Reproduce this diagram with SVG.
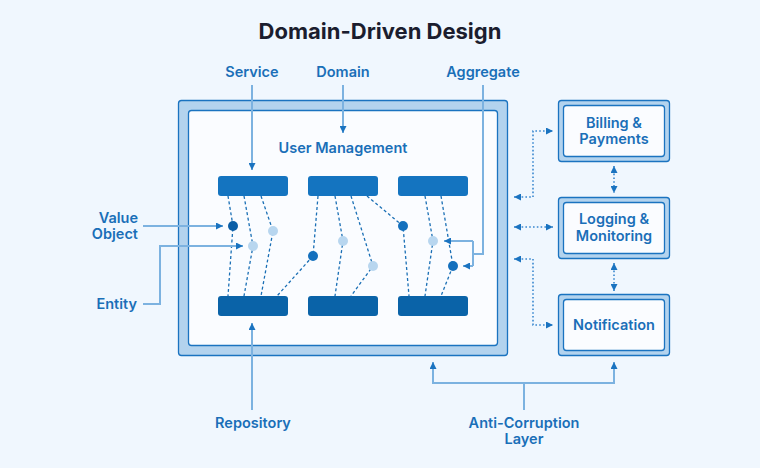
<svg xmlns="http://www.w3.org/2000/svg" width="760" height="468" viewBox="0 0 760 468">
<defs>
<style>
.lbl{font-family:Inter,"Open Sans","Liberation Sans",sans-serif;font-weight:600;font-size:14.5px;fill:#1a6fb8}
.title{font-family:Inter,"Open Sans","Liberation Sans",sans-serif;font-weight:700;font-size:22px;fill:#1b1d2e}
.frame{fill:#b3d3ee;stroke:#1a73c0;stroke-width:1.3}
.inner{fill:#fafcff;stroke:#1a73c0;stroke-width:1.3}
.svcTop{fill:#1474c0}
.svcBot{fill:#0a63a8}
.dl{fill:none;stroke:#1a6fb5;stroke-width:1.3;stroke-dasharray:3 2.5}
.ptr{fill:none;stroke:#7cb2e0;stroke-width:2}
.dot{fill:none;stroke:#3a88cf;stroke-width:1.6;stroke-dasharray:1.6 2.2}
.dDark{fill:#0b5ea6}
.dMid{fill:#1470bd}
.dLight{fill:#b8d6ef}
</style>
<marker id="ah" viewBox="0 0 6 6" refX="6" refY="3" markerWidth="7" markerHeight="7" markerUnits="userSpaceOnUse" orient="auto-start-reverse">
<path d="M0,0 L6,3 L0,6 z" fill="#1a73c0"/>
</marker>
</defs>
<rect width="760" height="468" fill="#f0f7fe"/>
<text class="title" x="380" y="39" text-anchor="middle">Domain-Driven Design</text>

<g id="domain">
<rect class="frame" x="178.5" y="100.5" width="329" height="255" rx="3"/>
<rect class="inner" x="188.5" y="110.5" width="309" height="235" rx="3"/>
<text class="lbl" x="343" y="153" text-anchor="middle" font-size="15.5">User Management</text>
</g>

<g id="services">
<rect class="svcTop" x="218" y="176" width="70" height="20" rx="3"/>
<rect class="svcTop" x="308" y="176" width="70" height="20" rx="3"/>
<rect class="svcTop" x="398" y="176" width="70" height="20" rx="3"/>
</g>
<g id="repositories">
<rect class="svcBot" x="218" y="296" width="70" height="20" rx="3"/>
<rect class="svcBot" x="308" y="296" width="70" height="20" rx="3"/>
<rect class="svcBot" x="398" y="296" width="70" height="20" rx="3"/>
</g>

<g id="connectors">
<polyline class="dl" points="228,196 233,226 228,296"/>
<polyline class="dl" points="244,196 253,246 244,296"/>
<polyline class="dl" points="261,196 273,231 261,296"/>
<polyline class="dl" points="318,196 313,256 277,296"/>
<polyline class="dl" points="335,196 343,241 335,296"/>
<polyline class="dl" points="351,196 373,266 351,296"/>
<polyline class="dl" points="367,196 403,226 409,296"/>
<polyline class="dl" points="425,196 433,241 425,296"/>
<polyline class="dl" points="441,196 453,266 441,296"/>

<path class="ptr" d="M252,85 V170" marker-end="url(#ah)"/>
<path class="ptr" d="M343,85 V133" marker-end="url(#ah)"/>
<path class="ptr" d="M252,410 V323" marker-end="url(#ah)"/>
<path class="ptr" d="M483,85 V254 H473"/>
<path class="ptr" d="M473,241 V266"/>
<path class="ptr" d="M473,241 H444" marker-end="url(#ah)"/>
<path class="ptr" d="M473,266 H463" marker-end="url(#ah)"/>
<path class="ptr" d="M143,226 H223" marker-end="url(#ah)"/>
<path class="ptr" d="M143,304 H160 V246 H243" marker-end="url(#ah)"/>
<path class="ptr" d="M524,410 V383 M433,362 V383 H614 V362"/>
<path class="ptr" d="M433,383 V362" marker-end="url(#ah)"/>
<path class="ptr" d="M614,383 V362" marker-end="url(#ah)"/>

<path class="dot" d="M514,197 H533 V131 H553" marker-start="url(#ah)" marker-end="url(#ah)"/>
<path class="dot" d="M514,227 H553" marker-start="url(#ah)" marker-end="url(#ah)"/>
<path class="dot" d="M514,259 H533 V325 H553" marker-start="url(#ah)" marker-end="url(#ah)"/>
<path class="dot" d="M614,166 V193" marker-start="url(#ah)" marker-end="url(#ah)"/>
<path class="dot" d="M614,263 V291" marker-start="url(#ah)" marker-end="url(#ah)"/>
</g>

<g id="objects">
<circle class="dDark" cx="233" cy="226" r="5"/>
<circle class="dLight" cx="253" cy="246" r="5"/>
<circle class="dLight" cx="273" cy="231" r="5"/>
<circle class="dMid" cx="313" cy="256" r="5"/>
<circle class="dLight" cx="343" cy="241" r="5"/>
<circle class="dLight" cx="373" cy="266" r="5"/>
<circle class="dMid" cx="403" cy="226" r="5"/>
<circle class="dLight" cx="433" cy="241" r="5"/>
<circle class="dMid" cx="453" cy="266" r="5"/>
</g>

<g id="billing">
<rect class="frame" x="558.5" y="100.5" width="111" height="61" rx="3"/>
<rect class="inner" x="563.5" y="105.5" width="101" height="51" rx="3"/>
<text class="lbl" x="614" y="128" text-anchor="middle">Billing &amp;</text>
<text class="lbl" x="614" y="144" text-anchor="middle">Payments</text>
</g>
<g id="logging">
<rect class="frame" x="558.5" y="197.5" width="111" height="61" rx="3"/>
<rect class="inner" x="563.5" y="202.5" width="101" height="51" rx="3"/>
<text class="lbl" x="614" y="224" text-anchor="middle">Logging &amp;</text>
<text class="lbl" x="614" y="241" text-anchor="middle">Monitoring</text>
</g>
<g id="notification">
<rect class="frame" x="558.5" y="294.5" width="111" height="61" rx="3"/>
<rect class="inner" x="563.5" y="299.5" width="101" height="51" rx="3"/>
<text class="lbl" x="614" y="330" text-anchor="middle">Notification</text>
</g>

<g id="labels">
<text class="lbl" x="252" y="77" text-anchor="middle">Service</text>
<text class="lbl" x="343" y="77" text-anchor="middle">Domain</text>
<text class="lbl" x="483" y="77" text-anchor="middle">Aggregate</text>
<text class="lbl" x="138" y="223" text-anchor="end">Value</text>
<text class="lbl" x="138" y="239" text-anchor="end">Object</text>
<text class="lbl" x="137" y="309" text-anchor="end">Entity</text>
<text class="lbl" x="253" y="428" text-anchor="middle">Repository</text>
<text class="lbl" x="524" y="428" text-anchor="middle">Anti-Corruption</text>
<text class="lbl" x="524" y="444" text-anchor="middle">Layer</text>
</g>
</svg>
